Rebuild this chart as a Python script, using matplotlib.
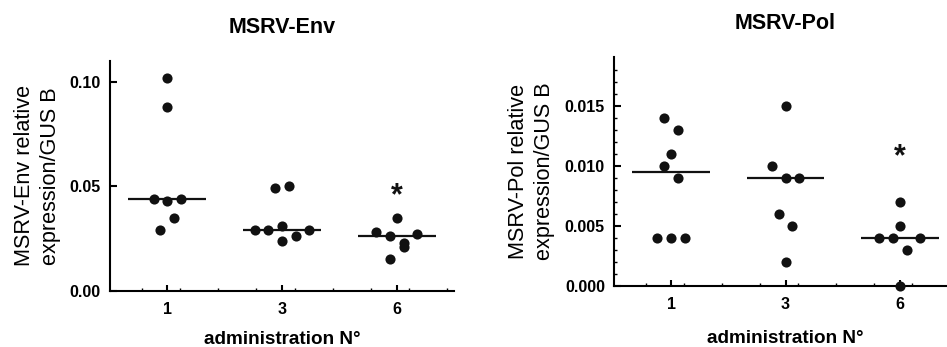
import numpy as np
import matplotlib
matplotlib.use("Agg")
import matplotlib.pyplot as plt

plt.rcParams['font.family'] = ['Liberation Sans', 'DejaVu Sans']

# ---- data ----
groups = ["1", "3", "6"]
env_1 = [0.102, 0.088, 0.044, 0.043, 0.044, 0.029, 0.035]
env_3 = [0.049, 0.050, 0.029, 0.029, 0.024, 0.026, 0.029, 0.031]
env_6 = [0.035, 0.028, 0.026, 0.023, 0.027, 0.015, 0.021]
pol_1 = [0.014, 0.013, 0.011, 0.010, 0.009, 0.004, 0.004, 0.004]
pol_3 = [0.015, 0.010, 0.009, 0.009, 0.006, 0.005, 0.002]
pol_6 = [0.007, 0.005, 0.004, 0.004, 0.003, 0.004, 0.000]
env_ticks = [0.00, 0.05, 0.10]
env_ticklabels = ["0.00", "0.05", "0.10"]
pol_ticks = [0.000, 0.005, 0.010, 0.015]
pol_ticklabels = ["0.000", "0.005", "0.010", "0.015"]
significant = [False, False, True]

fig = plt.figure(figsize=(9.47, 3.47), dpi=100)


def swarm_x(ax, xc, vals, thr_px=13.5, u_px=13.7):
    vals = np.asarray(vals, dtype=float)
    trans = ax.transData
    ypix = trans.transform(np.column_stack([np.zeros(len(vals)), vals]))[:, 1]
    x0 = trans.transform([[0, 0]])[0, 0]
    x1 = trans.transform([[1, 0]])[0, 0]
    u = u_px / (x1 - x0)
    order = np.argsort(ypix, kind='stable')
    clusters, cur, start = [], [order[0]], ypix[order[0]]
    for i in order[1:]:
        if ypix[i] - start < thr_px:
            cur.append(i)
        else:
            clusters.append(cur)
            cur, start = [i], ypix[i]
    clusters.append(cur)
    offs = np.zeros(len(vals))
    for c in clusters:
        c = sorted(c)
        n = len(c)
        for k, i in enumerate(c):
            offs[i] = (k - (n - 1) / 2) * u
    return xc + offs


def panel(rect, data, ylim, ticks, ticklabels, title, ylabel, ylab_x, xlab_y,
          star_frac, yminor=None):
    ax = fig.add_axes(rect)
    ax.set_xlim(-0.5, 2.5)
    ax.set_ylim(*ylim)
    for s in ['top', 'right']:
        ax.spines[s].set_visible(False)
    for s in ['left', 'bottom']:
        ax.spines[s].set_linewidth(1.5)
    ax.set_xticks(range(len(groups)))
    ax.set_xticklabels(groups, fontweight='bold', fontsize=11.5)
    ax.set_yticks(ticks)
    ax.set_yticklabels(ticklabels, fontweight='bold', fontsize=11.5)
    ax.tick_params(axis='y', direction='in', length=5, width=1.5, pad=6.5)
    ax.tick_params(axis='x', direction='in', length=4.5, width=1.5, pad=8)
    ax.set_xticks(np.arange(-0.224, 2.5, 1 / 3), minor=True)
    if yminor is not None:
        ax.set_yticks(yminor, minor=True)
    ax.tick_params(which='minor', direction='in', length=2, width=1.0)
    for i, vals in enumerate(data):
        xs = swarm_x(ax, i, vals)
        ax.plot(xs, vals, 'o', color='#111111', markersize=7.3,
                markeredgewidth=0, clip_on=False, zorder=3)
        med = np.median(vals)
        ax.plot([i - 0.34, i + 0.34], [med, med], color='#111111', lw=1.6,
                zorder=2, solid_capstyle='butt')
        if significant[i]:
            ax.text(i, star_frac, '*', transform=ax.get_xaxis_transform(),
                    ha='center', va='center', fontsize=22, fontweight='bold',
                    color='#111111')
    ax.set_title(title, fontweight='bold', fontsize=15.5, pad=20)
    ax.set_ylabel(ylabel, fontsize=15.6, linespacing=1.3)
    ax.yaxis.set_label_coords(ylab_x, 0.5)
    ax.set_xlabel("administration N°", fontweight='bold', fontsize=13.6)
    ax.xaxis.set_label_coords(0.5, xlab_y)
    return ax


panel([110 / 947, (347 - 290.7) / 347, 344 / 947, 229.7 / 347],
      [env_1, env_3, env_6], (0, 0.110), env_ticks, env_ticklabels,
      "MSRV-Env", "MSRV-Env relative\nexpression/GUS B", -0.143, -0.175,
      0.41)
panel([614 / 947, (347 - 286) / 347, 343 / 947, 229.3 / 347],
      [pol_1, pol_3, pol_6], (0, 0.0191), pol_ticks, pol_ticklabels,
      "MSRV-Pol", "MSRV-Pol relative\nexpression/GUS B", -0.172, -0.192,
      0.56, yminor=np.arange(0, 0.019, 0.001))

fig.savefig("out.png", dpi=100)
